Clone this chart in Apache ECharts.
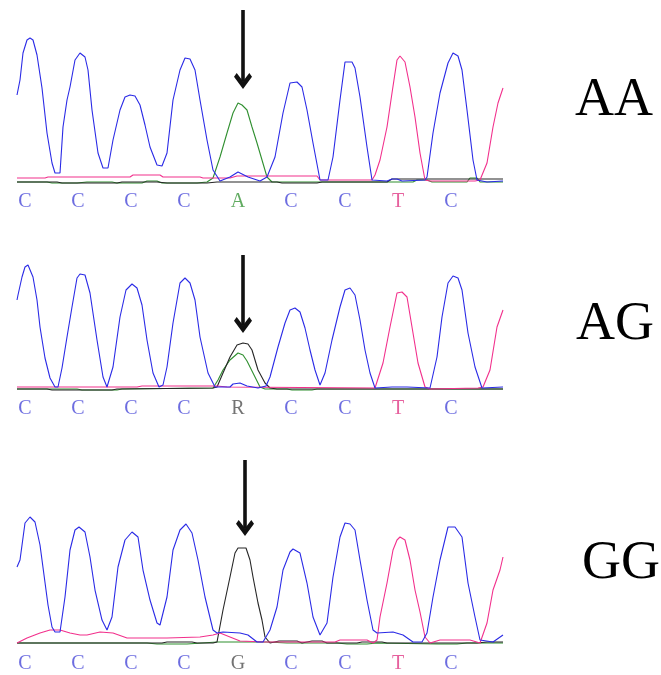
<!DOCTYPE html>
<html>
<head>
<meta charset="utf-8">
<script src="https://cdn.jsdelivr.net/npm/echarts@6/dist/echarts.min.js"></script>
<style>
  html, body { margin: 0; padding: 0; background: #fff; }
  #chart { width: 661px; height: 675px; }
</style>
</head>
<body>
<div id="chart"></div>
<script>
// Sanger chromatograms for three genotypes at one SNP (scan position, signal).

// ---- base calls (shared positions along the scan axis) ----
const basePositions = [8, 61, 114, 167, 221, 274, 328, 381, 434];
const basesAA = ['C', 'C', 'C', 'C', 'A', 'C', 'C', 'T', 'C'];
const basesAG = ['C', 'C', 'C', 'C', 'R', 'C', 'C', 'T', 'C'];
const basesGG = ['C', 'C', 'C', 'C', 'G', 'C', 'C', 'T', 'C'];
const genotypes = ['AA', 'AG', 'GG'];

// ---- SNP arrow (scan position, top and tip signal level) ----
const arrowX = [226, 226, 228];
const arrowTop = [171, 133, 183];
const arrowTip = [100, 63, 115];

// ---- panel AA traces ----
const aaC = [[0,86],[1,91],[3,101],[6,128],[10,141],[13,143],[16,141],[20,126],[25,93],[30,48],[35,18],[38,8],[43,8],[46,54],[50,81],[53,94],[58,121],[63,128],[68,124],[71,111],[75,71],[81,28],[86,13],[91,13],[96,41],[103,71],[108,84],[113,86],[118,85],[123,76],[128,56],[133,34],[140,16],[145,15],[150,28],[156,81],[163,111],[168,123],[173,122],[178,111],[183,81],[190,41],[196,11],[203,0],[213,4],[221,9],[231,4],[243,0],[250,4],[258,24],[266,68],[273,98],[280,99],[285,94],[290,71],[296,38],[303,1],[311,1],[316,24],[323,81],[328,119],[335,119],[338,113],[343,84],[350,34],[355,1],[370,0],[375,2],[380,2],[385,0],[408,1],[410,4],[416,48],[423,88],[431,118],[436,128],[441,125],[445,111],[450,71],[456,21],[460,1],[470,-1],[486,0]];
const aaA = [[0,-1],[30,-1],[35,-2],[60,-2],[70,-1],[95,-1],[100,-2],[125,-2],[130,0],[140,0],[145,-2],[180,-2],[190,-1],[196,3],[203,24],[210,48],[216,68],[221,78],[225,76],[230,71],[235,54],[240,38],[245,21],[250,4],[255,-1],[340,-1],[396,-1],[400,1],[410,1],[415,-1],[450,-1],[453,3],[460,3],[463,-1],[486,-1]];
const aaG = [[0,-1],[40,-1],[45,-2],[100,-2],[105,-1],[140,-1],[150,-2],[190,-2],[200,-1],[260,-1],[265,-2],[300,-2],[305,-1],[370,-1],[375,2],[486,2]];
const aaT = [[0,3],[28,3],[31,4],[113,4],[116,6],[143,6],[146,4],[183,4],[186,3],[213,3],[220,5],[300,5],[303,1],[355,1],[358,6],[363,21],[370,54],[375,88],[380,121],[383,125],[388,119],[393,94],[398,64],[403,28],[408,1],[413,0],[458,0],[463,1],[470,18],[476,54],[481,78],[486,93]];

// ---- panel AG traces ----
const agC = [[0,88],[1,93],[5,111],[8,121],[11,123],[16,111],[20,88],[23,61],[28,30],[33,10],[38,1],[41,1],[45,20],[50,51],[55,81],[60,110],[63,114],[68,113],[73,95],[80,48],[86,11],[90,1],[96,21],[103,71],[109,98],[115,104],[120,100],[125,83],[130,48],[136,15],[142,1],[146,3],[150,21],[156,65],[163,105],[168,110],[173,105],[178,88],[183,51],[191,15],[198,1],[213,1],[216,4],[223,5],[230,2],[241,0],[249,2],[253,11],[261,41],[268,65],[273,78],[278,80],[283,76],[288,60],[293,38],[298,18],[303,3],[308,15],[315,48],[323,81],[328,98],[333,100],[338,93],[343,68],[348,38],[353,15],[358,0],[375,1],[390,1],[413,0],[420,31],[425,71],[431,105],[436,112],[441,110],[445,98],[451,55],[458,21],[465,0],[486,1]];
const agA = [[0,-1],[60,-1],[65,-2],[100,-2],[105,-1],[196,0],[201,8],[206,18],[213,28],[221,35],[226,33],[230,27],[236,15],[243,1],[248,-1],[270,-1],[275,-2],[295,-2],[300,-1],[486,-1]];
const agG = [[0,-1],[30,-1],[35,-2],[95,-2],[100,-1],[196,0],[200,1],[206,15],[213,31],[220,43],[226,45],[231,44],[235,38],[241,18],[248,5],[253,0],[260,-1],[486,-1]];
const agT = [[0,1],[120,1],[125,2],[200,2],[210,1],[358,0],[360,1],[366,25],[373,61],[380,95],[385,96],[390,91],[395,61],[401,25],[408,1],[413,-1],[461,0],[466,1],[473,18],[480,61],[486,78]];

// ---- panel GG traces ----
const ggC = [[0,76],[3,83],[8,120],[13,126],[18,121],[23,98],[27,68],[31,38],[35,16],[38,11],[43,11],[48,46],[53,93],[58,113],[62,116],[68,111],[73,86],[78,53],[85,23],[90,13],[95,26],[101,76],[108,103],[115,111],[121,106],[126,73],[133,43],[140,20],[143,18],[150,46],[156,93],[163,113],[169,119],[175,110],[181,83],[188,46],[196,13],[200,10],[206,11],[223,10],[231,8],[240,1],[246,1],[253,13],[260,36],[266,73],[273,91],[276,94],[283,90],[290,60],[296,26],[303,8],[310,20],[316,66],[323,106],[328,120],[333,119],[338,113],[343,83],[350,43],[356,13],[360,10],[376,11],[386,8],[396,1],[405,1],[410,10],[416,46],[423,83],[431,116],[438,116],[445,106],[451,60],[458,26],[463,3],[476,1],[486,8]];
const ggA = [[0,0],[130,0],[140,-1],[170,-1],[185,0],[200,1],[250,1],[270,0],[320,0],[330,-1],[350,-1],[360,0],[420,-1],[440,-1],[450,0],[486,0]];
const ggG = [[0,0],[145,0],[150,1],[175,1],[180,0],[196,0],[200,1],[206,33],[213,66],[218,90],[221,95],[229,95],[233,83],[236,66],[241,40],[245,23],[248,6],[253,0],[262,2],[280,2],[285,0],[295,2],[305,2],[310,0],[340,0],[345,1],[365,1],[370,0],[460,0],[470,1],[486,1]];
const ggT = [[0,0],[10,5],[23,10],[33,13],[43,13],[53,10],[63,8],[70,8],[83,11],[96,10],[110,5],[150,5],[183,6],[196,8],[203,10],[213,6],[223,2],[248,1],[318,1],[323,3],[350,3],[356,0],[360,3],[363,26],[370,60],[376,93],[380,103],[383,106],[388,103],[393,83],[398,53],[403,31],[408,6],[413,0],[423,3],[453,3],[463,0],[470,20],[476,53],[483,73],[486,86]];

const panels = [
  { traces: [aaC, aaA, aaG, aaT], bases: basesAA, top: 6,   yMax: 175, yMin: -40 },
  { traces: [agC, agA, agG, agT], bases: basesAG, top: 238, yMax: 150, yMin: -40 },
  { traces: [ggC, ggA, ggG, ggT], bases: basesGG, top: 453, yMax: 190, yMin: -30 }
];
const traceColors = ['#2a2ae6', '#2f8f2f', '#262626', '#f2308c'];
const baseColors = { C: '#4848d8', A: '#3a963a', G: '#505050', R: '#505050', T: '#e03a86' };
const genotypeCenters = [101, 325, 564];
const genotypeLeft = [575, 576, 582];

const grids = [], xAxes = [], yAxes = [], series = [];
panels.forEach((p, k) => {
  grids.push({ left: 17, width: 486, top: p.top, height: p.yMax - p.yMin });
  xAxes.push({ type: 'value', gridIndex: k, min: 0, max: 486, show: false });
  yAxes.push({ type: 'value', gridIndex: k, min: p.yMin, max: p.yMax, show: false });
  p.traces.forEach((tr, j) => {
    const s = {
      type: 'line', xAxisIndex: k, yAxisIndex: k, data: tr,
      showSymbol: false, symbol: 'none', silent: true, clip: false,
      lineStyle: { color: traceColors[j], width: 1.1 },
      z: j === 0 ? 4 : 3
    };
    if (j === 2) {
      s.markLine = {
        silent: true, animation: false,
        symbol: ['none', 'path://M10 0 L20 10 L17 13 L10 6.2 L3 13 L0 10 Z'],
        symbolSize: [18, 16],
        label: { show: false },
        lineStyle: { color: '#111', width: 3.6, type: 'solid' },
        data: [[{ coord: [arrowX[k], arrowTop[k]] }, { coord: [arrowX[k], arrowTip[k]] }]]
      };
    }
    series.push(s);
  });
  series.push({
    type: 'scatter', xAxisIndex: k, yAxisIndex: k, symbolSize: 0, silent: true,
    data: basePositions.map((x, i) => ({
      value: [x, -21], name: p.bases[i],
      label: { color: baseColors[p.bases[i]] }
    })),
    label: {
      show: true, position: 'inside', formatter: '{b}',
      fontFamily: 'Liberation Serif', fontSize: 20
    }
  });
});

const chart = echarts.init(document.getElementById('chart'), null, { renderer: 'canvas' });
chart.setOption({
  animation: false,
  backgroundColor: '#ffffff',
  grid: grids, xAxis: xAxes, yAxis: yAxes, series: series,
  graphic: genotypes.map((g, k) => ({
    type: 'text', left: genotypeLeft[k], top: genotypeCenters[k] - 27,
    style: { text: g, font: '54px "Liberation Serif"', fill: '#000' }
  }))
});
</script>
</body>
</html>
